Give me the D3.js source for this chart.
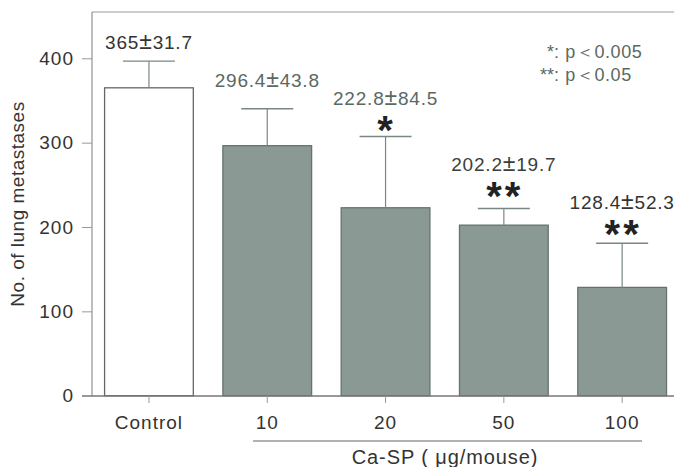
<!DOCTYPE html>
<html><head><meta charset="utf-8">
<script src="https://cdn.jsdelivr.net/npm/d3@7/dist/d3.min.js"></script>
<style>body{margin:0;background:#fff}svg{display:block}text{font-family:"Liberation Sans",Arial,sans-serif}</style>
</head><body><svg id="c" width="674" height="467"></svg>
<script>
const categories = ["Control", "10", "20", "50", "100"];
const means = [365, 296.4, 222.8, 202.2, 128.4];
const sds = [31.7, 43.8, 84.5, 19.7, 52.3];
const signif = ["", "", "*", "**", "**"];
const yTicks = [0, 100, 200, 300, 400];
const legendMarks = ["*", "**"];
const legendTexts = [": p＜0.005", ": p＜0.05"];
const yTitle = "No. of lung metastases";
const xTitle = "Ca-SP ( μg/mouse)";

const svg = d3.select("#c");
const y = d3.scaleLinear().domain([0, 400]).range([395.7, 58.3]);
const x = d3.scaleBand().domain(categories).range([89.8, 681.3]).paddingInner(0.25).paddingOuter(0.125);

// frame
svg.append("line").attr("x1", 92).attr("x2", 674).attr("y1", 12).attr("y2", 12).attr("stroke", "#999").attr("stroke-width", 1.2);
svg.append("line").attr("x1", 92).attr("x2", 92).attr("y1", 12).attr("y2", 396).attr("stroke", "#8a9690").attr("stroke-width", 1.2);

// bars
svg.selectAll("rect.bar").data(categories).join("rect")
  .attr("x", d => x(d)).attr("width", x.bandwidth())
  .attr("y", (d, i) => y(means[i])).attr("height", (d, i) => y(0) - y(means[i]))
  .attr("fill", (d, i) => i === 0 ? "#fff" : "#8b9994")
  .attr("stroke", (d, i) => i === 0 ? "#666" : "#65736d").attr("stroke-width", 1.3);

// error bars
const cx = d => x(d) + x.bandwidth() / 2;
svg.selectAll("line.eb").data(categories).join("line")
  .attr("x1", cx).attr("x2", cx)
  .attr("y1", (d, i) => y(means[i])).attr("y2", (d, i) => y(means[i] + sds[i]))
  .attr("stroke", "#7a8882").attr("stroke-width", 1.2);
svg.selectAll("line.cap").data(categories).join("line")
  .attr("x1", d => cx(d) - 26).attr("x2", d => cx(d) + 26)
  .attr("y1", (d, i) => y(means[i] + sds[i])).attr("y2", (d, i) => y(means[i] + sds[i]))
  .attr("stroke", "#7a8882").attr("stroke-width", 1.4);

// x axis
svg.append("line").attr("x1", 82).attr("x2", 674).attr("y1", 396).attr("y2", 396).attr("stroke", "#777").attr("stroke-width", 1.3);
const xa = svg.append("g").attr("transform", "translate(0,396)")
  .call(d3.axisBottom(x).tickSize(7).tickPadding(13).tickSizeOuter(0));
xa.select(".domain").remove();
xa.selectAll(".tick line").attr("stroke", "#999");
xa.selectAll(".tick text").attr("font-size", 19).attr("fill", "#333").attr("font-family", "Liberation Sans, Arial, sans-serif").attr("letter-spacing", 1);

// y axis
const ya = svg.append("g").attr("transform", "translate(92,0)")
  .call(d3.axisLeft(y).tickValues(yTicks).tickSize(10).tickPadding(8).tickSizeOuter(0));
ya.select(".domain").remove();
ya.selectAll(".tick line").attr("stroke", "#999");
ya.selectAll(".tick text").attr("font-size", 19).attr("fill", "#333").attr("font-family", "Liberation Sans, Arial, sans-serif").attr("letter-spacing", 1);

// y title
svg.append("text").attr("transform", "translate(24,204) rotate(-90)").attr("text-anchor", "middle")
  .attr("font-size", 19).attr("letter-spacing", 0.5).attr("fill", "#333").text(yTitle);

// value labels
const labelColors = ["#333", "#5a6962", "#5a6962", "#3a3f3c", "#333"];
const labelGap = [12, 22, 31, 38, 34];
const vals = svg.selectAll("text.val").data(categories).join("text")
  .attr("x", cx).attr("y", (d, i) => y(means[i] + sds[i]) - labelGap[i])
  .attr("text-anchor", "middle").attr("font-size", 19).attr("letter-spacing", 0.8)
  .attr("fill", (d, i) => labelColors[i]);
vals.append("tspan").text((d, i) => `${means[i]}`);
vals.append("tspan").attr("font-size", 23).text("±");
vals.append("tspan").text((d, i) => `${sds[i]}`);

// significance stars
const starGap = [0, 0, 8, 1, 5];
svg.selectAll("text.sig").data(categories).join("text")
  .attr("x", d => cx(d) + 1).attr("y", (d, i) => y(means[i] + sds[i]) + starGap[i])
  .attr("text-anchor", "middle").attr("font-size", 40).attr("font-weight", "bold").attr("letter-spacing", 3)
  .attr("fill", "#222").text((d, i) => signif[i]);

// legend
legendMarks.forEach((m, i) => {
  svg.append("text").attr("x", 554).attr("y", 58 + i * 23).attr("font-size", 18)
    .attr("text-anchor", "end").attr("fill", "#5a6962").text(m);
});
legendTexts.forEach((s, i) => {
  svg.append("text").attr("x", 554).attr("y", 58 + i * 23).attr("font-size", 18).attr("letter-spacing", 0.6)
    .attr("fill", "#5a6962").text(s);
});

// bracket under dose groups
svg.append("line").attr("x1", 253).attr("x2", 642).attr("y1", 441).attr("y2", 441).attr("stroke", "#666").attr("stroke-width", 1.2);
svg.append("text").attr("x", 445).attr("y", 464).attr("text-anchor", "middle").attr("font-size", 20).attr("letter-spacing", 0.9).attr("fill", "#333").text(xTitle);
</script></body></html>
